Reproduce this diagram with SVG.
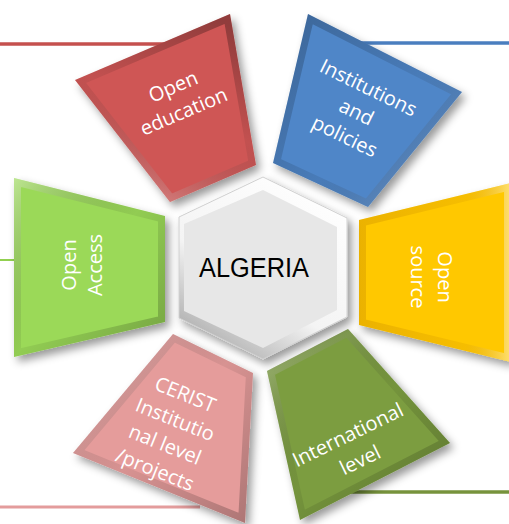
<svg xmlns="http://www.w3.org/2000/svg" width="509" height="524" viewBox="0 0 509 524">
<style>
.lbl{font-family:"Open Sans","DejaVu Sans",sans-serif;font-size:20px;fill:#ffffff;text-anchor:middle;dominant-baseline:central}
.bev{fill:none;stroke-width:14}
.conn{fill:none}
</style>
<defs>
<filter id="sh" x="-25%" y="-25%" width="160%" height="160%">
<feDropShadow dx="4" dy="5" stdDeviation="4" flood-color="#000" flood-opacity="0.4"/>
</filter>
<linearGradient id="ltdk" x1="0" y1="0" x2="1" y2="1">
<stop offset="0" stop-color="#fff" stop-opacity="0.35"/>
<stop offset="0.5" stop-color="#000" stop-opacity="0.06"/>
<stop offset="1" stop-color="#000" stop-opacity="0.25"/>
</linearGradient>
<linearGradient id="dklt" x1="0" y1="0" x2="1" y2="1">
<stop offset="0" stop-color="#000" stop-opacity="0.25"/>
<stop offset="0.55" stop-color="#000" stop-opacity="0.08"/>
<stop offset="1" stop-color="#fff" stop-opacity="0.35"/>
</linearGradient>
<linearGradient id="redb" x1="0.3" y1="1" x2="0.7" y2="0">
<stop offset="0" stop-color="#fff" stop-opacity="0.3"/>
<stop offset="0.5" stop-color="#000" stop-opacity="0.06"/>
<stop offset="1" stop-color="#000" stop-opacity="0.3"/>
</linearGradient>
<linearGradient id="yelb" x1="0" y1="0.5" x2="1" y2="0.5">
<stop offset="0" stop-color="#b07000" stop-opacity="0.25"/>
<stop offset="0.7" stop-color="#c08000" stop-opacity="0.15"/>
<stop offset="1" stop-color="#fff" stop-opacity="0.45"/>
</linearGradient>
<linearGradient id="hexo" x1="0.8" y1="0" x2="0.2" y2="1">
<stop offset="0" stop-color="#ffffff"/>
<stop offset="0.6" stop-color="#f4f4f4"/>
<stop offset="1" stop-color="#a8a8a8"/>
</linearGradient>
<clipPath id="cRed"><polygon points="75,80 230,14 256,165 170,202"/></clipPath>
<clipPath id="cBlue"><polygon points="308,14 462,92 368,207 273,163"/></clipPath>
<clipPath id="cGreen"><polygon points="14,178 165,216 165,322 14,357"/></clipPath>
<clipPath id="cYel"><polygon points="359,220 511,183 511,362 359,325"/></clipPath>
<clipPath id="cPink"><polygon points="173,334 253,373 245,523 73,453"/></clipPath>
<clipPath id="cOlive"><polygon points="267,371 348,329 450,443 300,520"/></clipPath>
</defs>
<rect width="509" height="524" fill="#ffffff"/>
<g id="connectors">
<line class="conn" x1="0" y1="44" x2="180" y2="44" stroke="#c5504e" stroke-width="3.5"/>
<line class="conn" x1="340" y1="43" x2="509" y2="43" stroke="#4a7ebf" stroke-width="3.5"/>
<line class="conn" x1="0" y1="260" x2="20" y2="260" stroke="#92d050" stroke-width="2"/>
<line class="conn" x1="480" y1="267" x2="509" y2="267" stroke="#f5a623" stroke-width="2"/>
<line class="conn" x1="0" y1="507" x2="200" y2="507" stroke="#e39c9c" stroke-width="3"/>
<line class="conn" x1="340" y1="492" x2="509" y2="492" stroke="#77933c" stroke-width="3.5"/>
</g>
<g id="open-education">
<polygon points="75,80 230,14 256,165 170,202" fill="#cf5654" filter="url(#sh)"/>
<polygon class="bev" points="75,80 230,14 256,165 170,202" stroke="url(#redb)" clip-path="url(#cRed)"/>
<text class="lbl" transform="translate(178,98) rotate(-23)"><tspan x="0" y="-13.5">Open</tspan><tspan x="0" y="13.5">education</tspan></text>
</g>
<g id="institutions-and-policies">
<polygon points="308,14 462,92 368,207 273,163" fill="#4f86c8" filter="url(#sh)"/>
<polygon class="bev" points="308,14 462,92 368,207 273,163" stroke="url(#dklt)" clip-path="url(#cBlue)"/>
<text class="lbl" transform="translate(357,111) rotate(26)"><tspan x="0" y="-27">Institutions</tspan><tspan x="0" y="0">and</tspan><tspan x="0" y="27">policies</tspan></text>
</g>
<g id="open-access">
<polygon points="14,178 165,216 165,322 14,357" fill="#9bd958" filter="url(#sh)"/>
<polygon class="bev" points="14,178 165,216 165,322 14,357" stroke="url(#ltdk)" clip-path="url(#cGreen)"/>
<text class="lbl" transform="translate(81,265) rotate(-90)"><tspan x="0" y="-13">Open</tspan><tspan x="0" y="13">Access</tspan></text>
</g>
<g id="open-source">
<polygon points="359,220 511,183 511,362 359,325" fill="#ffc800" filter="url(#sh)"/>
<polygon class="bev" points="359,220 511,183 511,362 359,325" stroke="url(#yelb)" clip-path="url(#cYel)"/>
<text class="lbl" transform="translate(432,277) rotate(90)"><tspan x="0" y="-13.5">Open</tspan><tspan x="0" y="13.5">source</tspan></text>
</g>
<g id="cerist">
<polygon points="173,334 253,373 245,523 73,453" fill="#e59c9b" filter="url(#sh)"/>
<polygon class="bev" points="173,334 253,373 245,523 73,453" stroke="url(#ltdk)" clip-path="url(#cPink)"/>
<text class="lbl" transform="translate(170.5,431) rotate(22)"><tspan x="0" y="-40.5">CERIST</tspan><tspan x="0" y="-13.5">Institutio</tspan><tspan x="0" y="13.5">nal level</tspan><tspan x="0" y="40.5">/projects</tspan></text>
</g>
<g id="international-level">
<polygon points="267,371 348,329 450,443 300,520" fill="#7c9d40" filter="url(#sh)"/>
<polygon class="bev" points="267,371 348,329 450,443 300,520" stroke="url(#ltdk)" clip-path="url(#cOlive)"/>
<text class="lbl" transform="translate(353.5,446.5) rotate(-26)"><tspan x="0" y="-14">International</tspan><tspan x="0" y="14">level</tspan></text>
</g>
<g id="algeria">
<polygon points="263,177 347,218 347,317 263,359 179,318 179,217" fill="url(#hexo)" stroke="#d0d0d0" stroke-width="1" filter="url(#sh)"/>
<polygon points="263,190 337,227 337,310 263,348 184,311 184,224" fill="#e7e7e7"/>
<text x="254" y="277" font-family="'Liberation Sans',Arial,sans-serif" font-size="27" fill="#000" text-anchor="middle" textLength="110" lengthAdjust="spacingAndGlyphs">ALGERIA</text>
</g>
</svg>
